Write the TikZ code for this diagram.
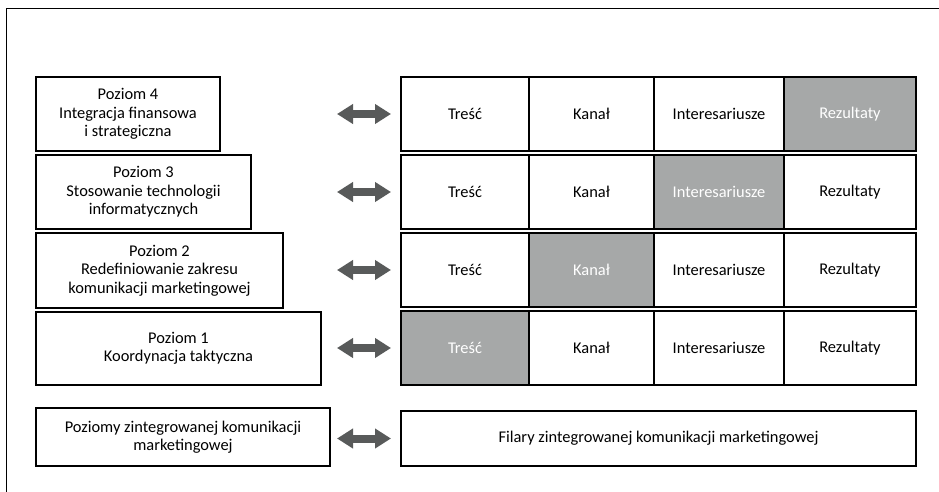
\documentclass[tikz,border=0pt]{standalone}
\usepackage{fontspec}
\setmainfont{Carlito}
\usetikzlibrary{positioning,arrows.meta}
\definecolor{cellgray}{RGB}{166,168,168}
\definecolor{arrowgray}{RGB}{88,90,90}
\tikzset{
  txt/.style={font=\fontsize{16.4}{18.5}\selectfont},
  lvlbox/.style={draw, line width=1.1pt, align=center, anchor=north west, inner sep=0pt, outer sep=0pt, minimum height=74pt, txt},
  cell/.style={draw, line width=1.3pt, minimum height=74pt, inner sep=0pt, outer sep=0pt, txt},
  hicell/.style={cell, fill=cellgray, text=white},
  dblarrow/.style={arrowgray, line width=8pt, shorten >=10pt,
    {Triangle[length=16pt,width=19pt]}-{Triangle[length=16pt,width=19pt]}}
}
\begin{document}
\begin{tikzpicture}[x=1pt, y=-1pt, line join=miter]
\useasboundingbox (0,0) rectangle (939,492);
% frame
\draw[line width=1pt] (939,9) -- (6,9) -- (6,492);
% levels
\node[lvlbox, minimum width=184pt] (p4) at (36,77) {Poziom 4\\Integracja finansowa\\i strategiczna};
\node[lvlbox, minimum width=215pt] (p3) at (36,155) {Poziom 3\\Stosowanie technologii\\informatycznych};
\node[lvlbox, minimum width=247pt, minimum height=75pt] (p2) at (36,233) {Poziom 2\\Redefiniowanie zakresu\\komunikacji marketingowej};
\node[lvlbox, minimum width=285pt, minimum height=73pt] (p1) at (36,312) {Poziom 1\\Koordynacja taktyczna};
\node[lvlbox, minimum width=294pt, minimum height=58pt] (pz) at (36,408) {Poziomy zintegrowanej komunikacji\\marketingowej};
% pillars, row 4
\node[cell, anchor=north west, minimum width=128pt] (t4) at (401,77) {Treść};
\node[cell, minimum width=125pt, right=0pt of t4] (k4) {Kanał};
\node[cell, minimum width=130pt, right=0pt of k4] (i4) {Interesariusze};
\node[hicell, minimum width=132pt, right=0pt of i4] (r4) {Rezultaty};
% row 3
\node[cell, anchor=north west, minimum width=128pt] (t3) at (401,155) {Treść};
\node[cell, minimum width=125pt, right=0pt of t3] (k3) {Kanał};
\node[hicell, minimum width=130pt, right=0pt of k3] (i3) {Interesariusze};
\node[cell, minimum width=132pt, right=0pt of i3] (r3) {Rezultaty};
% row 2
\node[cell, anchor=north west, minimum width=128pt] (t2) at (401,233) {Treść};
\node[hicell, minimum width=125pt, right=0pt of t2] (k2) {Kanał};
\node[cell, minimum width=130pt, right=0pt of k2] (i2) {Interesariusze};
\node[cell, minimum width=132pt, right=0pt of i2] (r2) {Rezultaty};
% row 1
\node[hicell, anchor=north west, minimum width=128pt] (t1) at (401,311) {Treść};
\node[cell, minimum width=125pt, right=0pt of t1] (k1) {Kanał};
\node[cell, minimum width=130pt, right=0pt of k1] (i1) {Interesariusze};
\node[cell, minimum width=132pt, right=0pt of i1] (r1) {Rezultaty};
\node[cell, anchor=north west, minimum width=515pt, minimum height=55pt] (fz) at (401,411) {Filary zintegrowanej komunikacji marketingowej};
% arrows
\coordinate (a4) at (337,114);
\coordinate (a3) at (337,192);
\coordinate (a2) at (337,270);
\coordinate (a1) at (337,348);
\coordinate (az) at (337,438.5);
\draw[dblarrow] (a4) -- (t4.west);
\draw[dblarrow] (a3) -- (t3.west);
\draw[dblarrow] (a2) -- (t2.west);
\draw[dblarrow] (a1) -- (t1.west);
\draw[dblarrow] (az) -- (fz.west);
\end{tikzpicture}
\end{document}
